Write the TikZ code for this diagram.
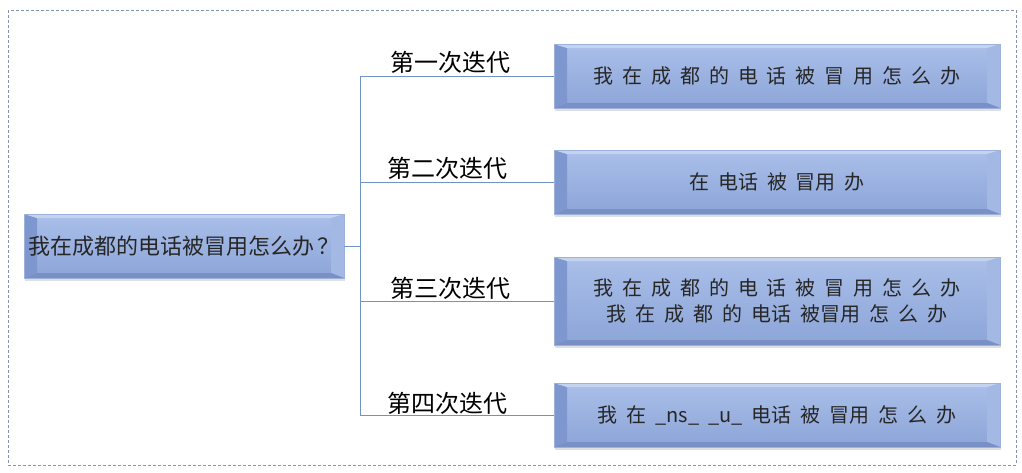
\documentclass[tikz,border=0pt]{standalone}
\usepackage{fontspec}
\usepackage{tikz}
\usetikzlibrary{positioning,shadows}
\newfontfamily\cjk{Noto Sans CJK SC}
\newfontfamily\cjkwide[WordSpace=2.0]{Noto Sans CJK SC}
\definecolor{facetop}{HTML}{AABFE9}
\definecolor{facebot}{HTML}{8CA5D8}
\definecolor{bevleft}{HTML}{7E98CF}
\definecolor{bevright}{HTML}{A3B8E3}
\definecolor{bevtop}{HTML}{C3D3F0}
\definecolor{bevbot}{HTML}{7890C6}
\definecolor{boxedge}{HTML}{9CB2DA}
\definecolor{linkblue}{HTML}{6F93C2}
\definecolor{framegray}{HTML}{8096B0}

\begin{document}
\begin{tikzpicture}[
  x=1pt, y=-1pt,
  bevel/.style={draw=boxedge, line width=0.5pt, top color=facetop, bottom color=facebot,
    inner sep=0pt, align=center, text=black!85,
    drop shadow={opacity=0.25, shadow xshift=1pt, shadow yshift=-2.5pt},
    path picture={
      \fill[bevleft] (path picture bounding box.north west) -- (path picture bounding box.south west)
        -- ([xshift=13pt,yshift=5pt]path picture bounding box.south west)
        -- ([xshift=13pt,yshift=-4pt]path picture bounding box.north west) -- cycle;
      \fill[bevright] (path picture bounding box.north east) -- (path picture bounding box.south east)
        -- ([xshift=-13pt,yshift=5pt]path picture bounding box.south east)
        -- ([xshift=-13pt,yshift=-4pt]path picture bounding box.north east) -- cycle;
      \fill[bevtop] (path picture bounding box.north west) -- (path picture bounding box.north east)
        -- ([xshift=-13pt,yshift=-4pt]path picture bounding box.north east)
        -- ([xshift=13pt,yshift=-4pt]path picture bounding box.north west) -- cycle;
      \fill[bevbot] (path picture bounding box.south west) -- (path picture bounding box.south east)
        -- ([xshift=-13pt,yshift=5pt]path picture bounding box.south east)
        -- ([xshift=13pt,yshift=5pt]path picture bounding box.south west) -- cycle;
    }},
  step box/.style={bevel, minimum width=446pt, minimum height=64pt,
    font=\cjkwide\fontsize{20}{26}\selectfont},
  iter/.style={font=\cjk\fontsize{24}{28}\selectfont, inner sep=0pt},
  link/.style={draw=linkblue, line width=0.8pt}
]
\useasboundingbox (0,0) rectangle (1022,472);
\draw[framegray, line width=0.6pt, dash pattern=on 3pt off 2pt] (8,10) rectangle (1016,465);

% query and the four iterations
\node[bevel, minimum width=320pt, minimum height=64pt,
  font=\cjk\fontsize{22}{26}\selectfont] (query) at (184,246) {我在成都的电话被冒用怎么办\hspace{3pt}？};
\node[step box] (it1) at (777,76) {我 在 成 都 的 电 话 被 冒 用 怎 么 办};
\node[step box] (it2) at (777,182) {在 电话 被 冒用 办};
\node[step box, minimum height=88pt] (it3) at (777,301) {我 在 成 都 的 电 话 被 冒 用 怎 么 办\\我 在 成 都 的 电话 被冒用 怎 么 办};
\node[step box] (it4) at (777,415) {我 在 \_ns\_ \_u\_ 电话 被 冒用 怎 么 办};

\node[iter] (lab1) at (450,62) {第一次迭代};
\node[iter] (lab2) at (447,168) {第二次迭代};
\node[iter] (lab3) at (450,288) {第三次迭代};
\node[iter] (lab4) at (447,403) {第四次迭代};

\coordinate (fork) at (360,246);
\draw[link] (query.east) -- (fork);
\draw[link] (fork) |- (it1.west);
\draw[link] (fork) |- (it2.west);
\draw[link] (fork) |- (it3.west);
\draw[link] (fork) |- (it4.west);
\end{tikzpicture}
\end{document}
